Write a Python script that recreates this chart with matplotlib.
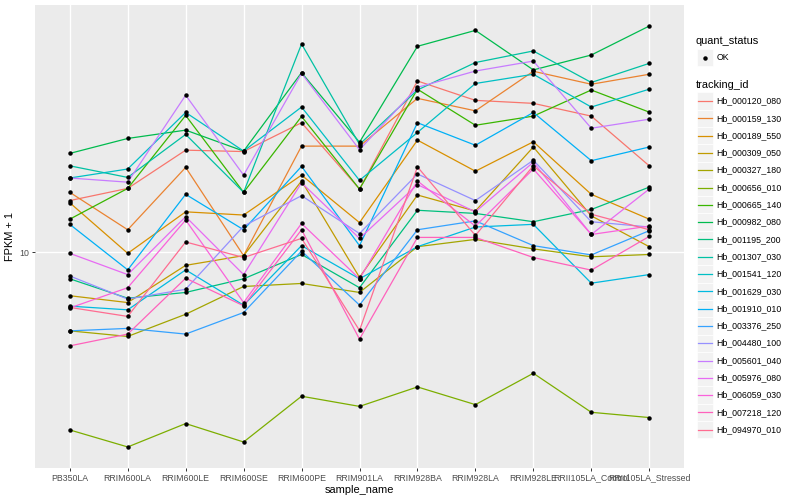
import numpy as np
import matplotlib
matplotlib.use("Agg")
import matplotlib.pyplot as plt
from matplotlib.patches import Rectangle
from matplotlib.lines import Line2D
from matplotlib.ticker import NullLocator

plt.rcParams['font.family'] = ['Liberation Sans', 'DejaVu Sans']

samples = ["PB350LA", "RRIM600LA", "RRIM600LE", "RRIM600SE", "RRIM600PE", "RRIM901LA",
           "RRIM928BA", "RRIM928LA", "RRIM928LE", "RRII105LA_Control", "RRII105LA_Stressed"]

tracking_ids = ["Hb_000120_080", "Hb_000159_130", "Hb_000189_550", "Hb_000309_050",
                "Hb_000327_180", "Hb_000656_010", "Hb_000665_140", "Hb_000982_080",
                "Hb_001195_200", "Hb_001307_030", "Hb_001541_120", "Hb_001629_030",
                "Hb_001910_010", "Hb_003376_250", "Hb_004480_100", "Hb_005601_040",
                "Hb_005976_080", "Hb_006059_030", "Hb_007218_120", "Hb_094970_010"]

# ggplot default hue palette, 20 levels
colors = ["#F8766D", "#EA8331", "#D89000", "#C09B00", "#A3A500", "#7CAE00", "#39B600",
          "#00BB4E", "#00BF7D", "#00C1A3", "#00BFC4", "#00BAE0", "#00B0F6", "#35A2FF",
          "#9590FF", "#C77CFF", "#E76BF3", "#FA62DB", "#FF62BC", "#FF6C91"]

# FPKM + 1, one row per tracking_id, columns follow samples
fpkm = [
    [15.8, 17.6, 24.7, 24.4, 31.5, 17.5, 45.6, 38.4, 37.4, 33.4, 21.5],
    [17.0, 12.2, 21.2, 9.7, 25.6, 25.6, 39.1, 35.0, 49.7, 44.3, 48.4],
    [15.5, 9.9, 14.3, 13.9, 19.8, 13.0, 27.0, 20.5, 26.6, 16.7, 13.4],
    [6.8, 6.4, 8.9, 9.7, 18.8, 8.0, 16.6, 14.4, 25.4, 13.8, 10.5],
    [4.98, 4.74, 5.77, 7.38, 7.58, 7.0, 10.5, 11.2, 10.3, 9.6, 9.8],
    [2.07, 1.78, 2.19, 1.86, 2.79, 2.55, 3.03, 2.59, 3.42, 2.42, 2.31],
    [13.4, 17.6, 33.6, 17.0, 33.3, 17.5, 42.4, 30.8, 33.4, 42.1, 34.6],
    [24.0, 27.4, 29.5, 24.5, 49.1, 26.5, 62.0, 71.4, 50.3, 57.4, 74.2],
    [7.9, 6.65, 7.0, 7.9, 9.8, 7.3, 14.5, 14.1, 13.1, 14.6, 17.8],
    [21.5, 19.4, 28.4, 17.0, 63.3, 26.0, 42.1, 53.7, 59.5, 45.0, 53.3],
    [19.3, 20.9, 34.5, 24.5, 36.2, 18.9, 28.9, 44.6, 48.4, 36.2, 42.4],
    [6.2, 6.0, 8.55, 6.25, 10.6, 7.9, 10.5, 12.5, 12.8, 7.6, 8.2],
    [12.8, 8.55, 16.7, 12.2, 21.4, 10.6, 31.5, 25.8, 34.5, 22.5, 25.4],
    [4.98, 5.09, 4.84, 5.86, 10.1, 6.26, 12.2, 13.2, 10.6, 9.76, 12.1],
    [8.1, 6.6, 7.2, 12.6, 16.5, 11.8, 20.0, 15.8, 22.6, 13.1, 12.5],
    [19.3, 18.6, 40.2, 19.8, 48.8, 24.8, 43.1, 49.8, 54.4, 30.0, 32.5],
    [9.9, 8.2, 13.7, 8.2, 18.5, 11.3, 18.2, 14.3, 22.2, 11.7, 17.5],
    [6.1, 7.3, 13.3, 6.4, 12.9, 7.9, 18.8, 12.6, 20.9, 11.7, 12.6],
    [4.36, 4.84, 7.94, 6.22, 12.2, 4.63, 11.4, 11.4, 9.54, 8.53, 11.5],
    [6.13, 5.66, 10.95, 9.54, 11.3, 5.0, 21.3, 11.6, 21.5, 14.0, 12.2],
]

W, H = 800, 500
fig = plt.figure(figsize=(8, 5), dpi=100)
ax = fig.add_axes([35 / W, (H - 468) / H, (684 - 35) / W, (468 - 5) / H])
ax.set_facecolor("#EBEBEB")

x = np.arange(len(samples))
for vals, c in zip(fpkm, colors):
    ax.plot(x, vals, color=c, lw=0.9, zorder=2)
for vals in fpkm:
    ax.plot(x, vals, 'o', color='black', ms=2.2, zorder=3)

ax.set_yscale('log')
allv = np.log10(np.array(fpkm))
lo, hi = allv.min(), allv.max()
pad = (hi - lo) * 0.05
ax.set_ylim(10 ** (lo - pad), 10 ** (hi + pad))
ax.set_xlim(-0.6, len(samples) - 0.4)
ax.set_yticks([10])
ax.set_yticklabels(["10"])
ax.yaxis.set_minor_locator(NullLocator())
ax.set_xticks(x)
ax.set_xticklabels(samples)

ax.grid(True, color='white', lw=1.0)
ax.set_axisbelow(True)
for s in ax.spines.values():
    s.set_visible(False)
ax.tick_params(length=2.5, width=0.7, color='#333333', labelcolor='#4D4D4D',
               labelsize=6.3, pad=1.5)
ax.set_xlabel("sample_name", fontsize=7.9, labelpad=2)
ax.set_ylabel("FPKM + 1", fontsize=7.9, labelpad=3)

# legend drawn in pixel coordinates on the right
lax = fig.add_axes([686 / W, 0, (W - 686) / W, 1])
lax.set_xlim(686, W)
lax.set_ylim(H, 0)
lax.axis('off')

lax.text(696, 41, "quant_status", fontsize=7.9, va='center', ha='left')
lax.add_patch(Rectangle((697, 49), 15.5, 17, facecolor='#F2F2F2', edgecolor='white', lw=0.5))
lax.plot([704.75], [57.5], 'o', color='black', ms=2.2)
lax.text(716.5, 57.5, "OK", fontsize=6.3, va='center', ha='left')

lax.text(696, 85, "tracking_id", fontsize=7.9, va='center', ha='left')
y0, step = 101, 17.3
for i, (tid, c) in enumerate(zip(tracking_ids, colors)):
    yc = y0 + i * step
    lax.add_patch(Rectangle((697, yc - step / 2), 15.5, step, facecolor='#F2F2F2',
                            edgecolor='white', lw=0.5))
    lax.add_line(Line2D([698, 711.5], [yc, yc], color=c, lw=0.9))
    lax.text(716.5, yc, tid, fontsize=6.3, va='center', ha='left')

fig.savefig("out.png", dpi=100)
